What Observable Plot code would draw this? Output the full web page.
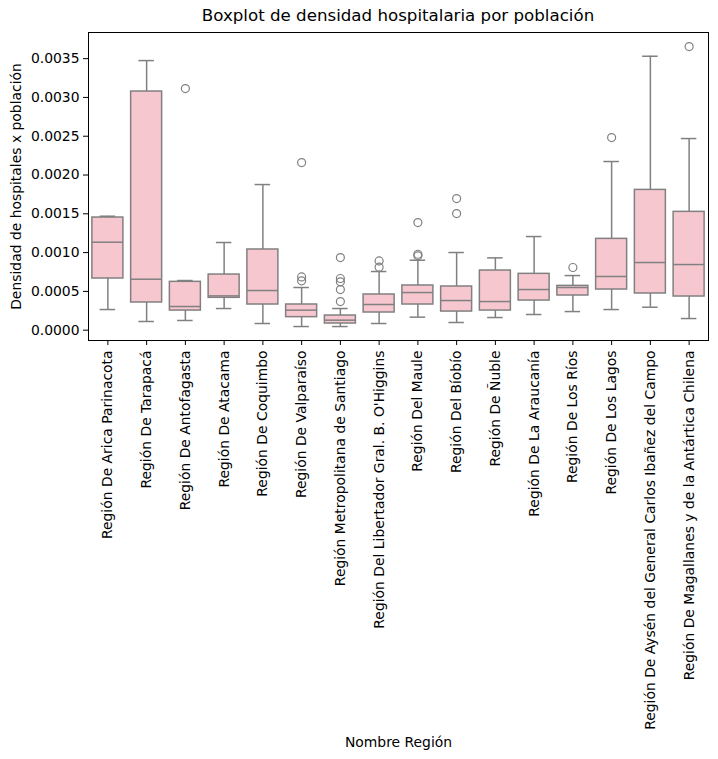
<!DOCTYPE html>
<html><head><meta charset="utf-8">
<script src="https://cdn.jsdelivr.net/npm/d3@7"></script>
<script src="https://cdn.jsdelivr.net/npm/@observablehq/plot@0.6"></script>
<style>
body{margin:0;background:#fff;font-family:"DejaVu Sans",sans-serif;}
#title{box-sizing:border-box;height:30px;margin-left:88px;width:620px;text-align:center;font-size:16.67px;line-height:1;padding-top:8px;color:#000;white-space:nowrap;}
</style></head><body>
<div id="title">Boxplot de densidad hospitalaria por población</div>
<div id="chart"></div>
<script>
const regions = [
  "Región De Arica Parinacota",
  "Región De Tarapacá",
  "Región De Antofagasta",
  "Región De Atacama",
  "Región De Coquimbo",
  "Región De Valparaíso",
  "Región Metropolitana de Santiago",
  "Región Del Libertador Gral. B. O'Higgins",
  "Región Del Maule",
  "Región Del Bíobío",
  "Región De Ñuble",
  "Región De La Araucanía",
  "Región De Los Ríos",
  "Región De Los Lagos",
  "Región De Aysén del General Carlos Ibañez del Campo",
  "Región De Magallanes y de la Antártica Chilena"
];
const whiskerLow  = [0.000266, 0.000112, 0.000125, 0.000279, 0.000086, 0.000047, 0.000047, 0.000086, 0.000168, 0.000099, 0.000163, 0.000202, 0.000240, 0.000266, 0.000296, 0.000150];
const q1          = [0.000666, 0.000357, 0.000253, 0.000417, 0.000331, 0.000168, 0.000086, 0.000228, 0.000331, 0.000240, 0.000253, 0.000382, 0.000447, 0.000524, 0.000473, 0.000434];
const median      = [0.001134, 0.000657, 0.000305, 0.000442, 0.000511, 0.000258, 0.000129, 0.000331, 0.000485, 0.000382, 0.000369, 0.000524, 0.000550, 0.000692, 0.000872, 0.000846];
const q3          = [0.001452, 0.003076, 0.000623, 0.000717, 0.001040, 0.000331, 0.000189, 0.000460, 0.000576, 0.000563, 0.000769, 0.000726, 0.000571, 0.001177, 0.001808, 0.001525];
const whiskerHigh = [0.001469, 0.003475, 0.000640, 0.001130, 0.001877, 0.000550, 0.000279, 0.000756, 0.000902, 0.001001, 0.000932, 0.001207, 0.000704, 0.002174, 0.003531, 0.002470];
const outlierRegion = [
  "Región De Antofagasta",
  "Región De Valparaíso", "Región De Valparaíso", "Región De Valparaíso",
  "Región Metropolitana de Santiago", "Región Metropolitana de Santiago", "Región Metropolitana de Santiago", "Región Metropolitana de Santiago", "Región Metropolitana de Santiago",
  "Región Del Libertador Gral. B. O'Higgins", "Región Del Libertador Gral. B. O'Higgins",
  "Región Del Maule", "Región Del Maule", "Región Del Maule",
  "Región Del Bíobío", "Región Del Bíobío",
  "Región De Los Ríos",
  "Región De Los Lagos",
  "Región De Magallanes y de la Antártica Chilena"
];
const outlierValue = [
  0.003114,
  0.002160, 0.000687, 0.000636,
  0.000936, 0.000666, 0.000623, 0.000524, 0.000369,
  0.000893, 0.000812,
  0.001387, 0.000979, 0.000958,
  0.001697, 0.001503,
  0.000808,
  0.002483,
  0.003656
];
const yTicks = [0, 0.0005, 0.0010, 0.0015, 0.0020, 0.0025, 0.0030, 0.0035];

const boxes = regions.map((r, i) => ({region: r, lo: whiskerLow[i], q1: q1[i], med: median[i], q3: q3[i], hi: whiskerHigh[i]}));
const outliers = outlierValue.map((v, i) => ({region: outlierRegion[i], value: v}));
const lineColor = "#808080";
const fillColor = "#f7c7d0";
const cap = {stroke: lineColor, strokeWidth: 1.5, insetLeft: 7.75, insetRight: 7.75};

const chart = Plot.plot({
  width: 718, height: 729,
  marginTop: 2, marginBottom: 419, marginLeft: 88, marginRight: 10,
  style: {fontFamily: "DejaVu Sans", fontSize: "13.9px", color: "#000", background: "#fff", overflow: "visible"},
  x: {domain: regions, paddingInner: 0.2, paddingOuter: 0.1, round: false, label: null},
  y: {domain: [-0.000133, 0.003837], label: null},
  marks: [
    Plot.axisX({tickRotate: -90, tickSize: 5, tickPadding: 5, label: "Nombre Región", labelAnchor: "center", labelOffset: 406, labelArrow: "none"}),
    Plot.axisY({ticks: yTicks, tickFormat: d3.format(".4f"), tickSize: 5, tickPadding: 4, label: "Densidad de hospitales x población", labelAnchor: "center", labelOffset: 77, labelArrow: "none"}),
    Plot.ruleX(boxes, {x: "region", y1: "lo", y2: "hi", stroke: lineColor, strokeWidth: 1.5}),
    Plot.tickY(boxes, {x: "region", y: "lo", ...cap}),
    Plot.tickY(boxes, {x: "region", y: "hi", ...cap}),
    Plot.barY(boxes, {x: "region", y1: "q1", y2: "q3", fill: fillColor, stroke: lineColor, strokeWidth: 1.5}),
    Plot.tickY(boxes, {x: "region", y: "med", stroke: lineColor, strokeWidth: 1.5}),
    Plot.dot(outliers, {x: "region", y: "value", r: 4, stroke: lineColor, fill: "none", strokeWidth: 1.2}),
    Plot.frame({stroke: "#000", strokeWidth: 1})
  ]
});
document.getElementById("chart").appendChild(chart);
</script>
</body></html>
